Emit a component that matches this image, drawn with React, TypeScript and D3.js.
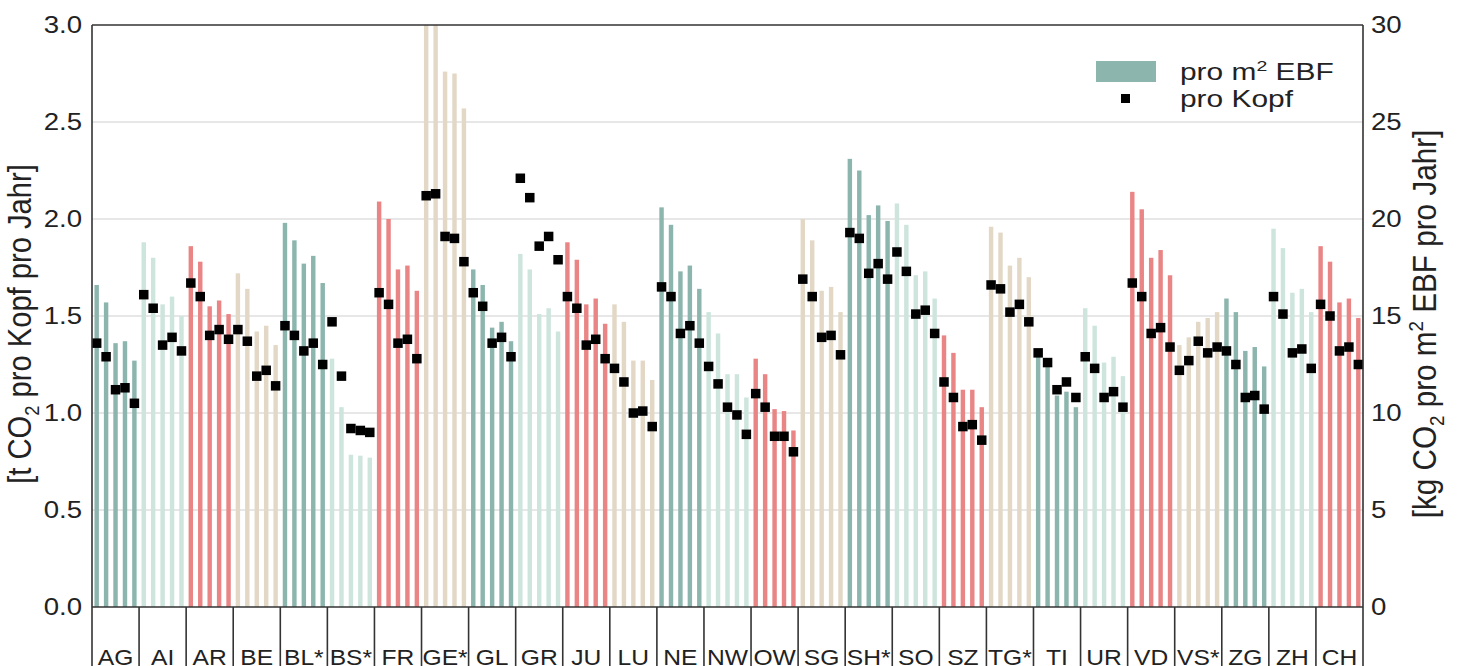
import React from "react";
import * as d3 from "d3";

// cantons, 5 years each
const cantons = ["AG", "AI", "AR", "BE", "BL*", "BS*", "FR", "GE*", "GL", "GR", "JU", "LU", "NE", "NW", "OW", "SG", "SH*", "SO", "SZ", "TG*", "TI", "UR", "VD", "VS*", "ZG", "ZH", "CH"];
const years = [0, 1, 2, 3, 4];
const palette = ["#8cb5ad", "#cde5dd", "#ea8586", "#e3d8c6"];

// kg CO2 pro m2 EBF (right axis)
const perM2 = [
  [16.6, 15.7, 13.6, 13.7, 12.7],
  [18.8, 18.0, 15.6, 16.0, 15.0],
  [18.6, 17.8, 15.5, 15.8, 15.1],
  [17.2, 16.4, 14.2, 14.5, 13.5],
  [19.8, 18.9, 17.7, 18.1, 16.7],
  [12.8, 10.3, 7.85, 7.8, 7.7],
  [20.9, 20.0, 17.4, 17.6, 16.3],
  [31.0, 31.0, 27.6, 27.5, 25.7],
  [17.4, 16.6, 14.4, 14.7, 13.7],
  [18.2, 17.4, 15.1, 15.4, 14.2],
  [18.8, 17.9, 15.6, 15.9, 14.6],
  [15.6, 14.7, 12.7, 12.7, 11.7],
  [20.6, 19.7, 17.3, 17.6, 16.4],
  [15.2, 14.1, 12.0, 12.0, 10.8],
  [12.8, 12.0, 10.2, 10.1, 9.1],
  [20.0, 18.9, 16.3, 16.5, 15.2],
  [23.1, 22.5, 20.2, 20.7, 19.9],
  [20.8, 19.7, 17.1, 17.3, 15.9],
  [14.0, 13.1, 11.2, 11.2, 10.3],
  [19.6, 19.3, 17.6, 18.0, 17.0],
  [13.0, 12.5, 10.9, 11.1, 10.3],
  [15.4, 14.5, 12.6, 12.9, 11.9],
  [21.4, 20.5, 18.0, 18.4, 17.1],
  [13.5, 13.9, 14.7, 14.9, 15.2],
  [15.9, 15.2, 13.2, 13.4, 12.4],
  [19.5, 18.5, 16.2, 16.4, 15.2],
  [18.6, 17.8, 15.7, 15.9, 14.9],
];

// t CO2 pro Kopf (left axis)
const perKopf = [
  [1.36, 1.29, 1.12, 1.13, 1.05],
  [1.61, 1.54, 1.35, 1.39, 1.32],
  [1.67, 1.60, 1.40, 1.43, 1.38],
  [1.43, 1.37, 1.19, 1.22, 1.14],
  [1.45, 1.40, 1.32, 1.36, 1.25],
  [1.47, 1.19, 0.92, 0.91, 0.90],
  [1.62, 1.56, 1.36, 1.38, 1.28],
  [2.12, 2.13, 1.91, 1.90, 1.78],
  [1.62, 1.55, 1.36, 1.39, 1.29],
  [2.21, 2.11, 1.86, 1.91, 1.79],
  [1.60, 1.54, 1.35, 1.38, 1.28],
  [1.23, 1.16, 1.00, 1.01, 0.93],
  [1.65, 1.60, 1.41, 1.45, 1.36],
  [1.24, 1.15, 1.03, 0.99, 0.89],
  [1.10, 1.03, 0.88, 0.88, 0.80],
  [1.69, 1.60, 1.39, 1.40, 1.30],
  [1.93, 1.90, 1.72, 1.77, 1.69],
  [1.83, 1.73, 1.51, 1.53, 1.41],
  [1.16, 1.08, 0.93, 0.94, 0.86],
  [1.66, 1.64, 1.52, 1.56, 1.47],
  [1.31, 1.26, 1.12, 1.16, 1.08],
  [1.29, 1.23, 1.08, 1.11, 1.03],
  [1.67, 1.60, 1.41, 1.44, 1.34],
  [1.22, 1.27, 1.37, 1.31, 1.34],
  [1.32, 1.25, 1.08, 1.09, 1.02],
  [1.60, 1.51, 1.31, 1.33, 1.23],
  [1.56, 1.50, 1.32, 1.34, 1.25],
];

const leftTicks = [0, 0.5, 1.0, 1.5, 2.0, 2.5, 3.0];
const rightTicks = [0, 5, 10, 15, 20, 25, 30];

const W = 1458;
const H = 666;
const left = 92;
const right = 1363;
const top = 25;
const bottom = 607;
const font = "'Liberation Sans', Arial, sans-serif";
const frame = "#333";
const ink = "#222";

// the source picture's lettering is wider than Liberation Sans, so stretch it
const wide = (x: number, y: number, sx: number, rot = 0, sy = 1) =>
  `translate(${x},${y}) rotate(${rot}) scale(${sx},${sy})`;

export default function App() {
  const x = d3.scaleBand().domain(cantons).range([left, right]).padding(0);
  const xi = d3.scaleBand<number>().domain(years).range([0, x.bandwidth()]).paddingInner(0.53).paddingOuter(0.26);
  const yL = d3.scaleLinear().domain([0, 3]).range([bottom, top]);
  const yR = d3.scaleLinear().domain([0, 30]).range([bottom, top]);
  const sq = 9.5;
  const midY = (top + bottom) / 2 + 8;

  return (
    <svg width={W} height={H} style={{ position: "absolute", left: 0, top: 0, background: "#fff" }} fontFamily={font}>
      <defs>
        <clipPath id="plot">
          <rect x={left} y={top} width={right - left} height={bottom - top} />
        </clipPath>
      </defs>

      {/* grid */}
      {leftTicks.slice(1, -1).map((t) => (
        <line key={t} x1={left} x2={right} y1={yL(t)} y2={yL(t)} stroke="#cfcfcf" strokeWidth={1.2} />
      ))}

      {/* bars */}
      <g clipPath="url(#plot)">
        {cantons.map((c, i) =>
          perM2[i].map((v, j) => (
            <rect
              key={c + j}
              x={x(c)! + xi(j)!}
              y={yR(v)}
              width={xi.bandwidth()}
              height={bottom - yR(v)}
              fill={palette[i % 4]}
            />
          ))
        )}
      </g>

      {/* squares */}
      {cantons.map((c, i) =>
        perKopf[i].map((v, j) => (
          <rect
            key={"k" + c + j}
            x={x(c)! + xi(j)! + xi.bandwidth() / 2 - sq / 2}
            y={yL(v) - sq / 2}
            width={sq}
            height={sq}
            fill="#000"
          />
        ))
      )}

      {/* frame */}
      <line x1={left} x2={right} y1={top} y2={top} stroke={frame} strokeWidth={1.6} />
      <line x1={left} x2={left} y1={top} y2={H} stroke={frame} strokeWidth={1.6} />
      <line x1={right} x2={right} y1={top} y2={H} stroke={frame} strokeWidth={1.6} />
      <line x1={left} x2={right} y1={bottom} y2={bottom} stroke={frame} strokeWidth={1.6} />

      {/* category boxes */}
      {cantons.slice(1).map((c) => (
        <line key={"s" + c} x1={x(c)} x2={x(c)} y1={bottom} y2={H} stroke={frame} strokeWidth={1.6} />
      ))}
      {cantons.map((c) => (
        <text key={"l" + c} transform={wide(x(c)! + x.bandwidth() / 2, 665, 1.12)} textAnchor="middle" fontSize={22} fill={ink}>
          {c}
        </text>
      ))}

      {/* left axis */}
      {leftTicks.map((t) => (
        <text key={"lt" + t} transform={wide(82, yL(t), 1.2)} dy="0.36em" textAnchor="end" fontSize={23} fill={ink}>
          {d3.format(".1f")(t)}
        </text>
      ))}
      <text transform={wide(31, midY, 1.08, -90, 1.2)} textAnchor="middle" fontSize={27} fill={ink}>
        [t CO<tspan fontSize={17} dy={7}>2</tspan>
        <tspan dy={-7}> pro Kopf pro Jahr]</tspan>
      </text>

      {/* right axis */}
      {rightTicks.map((t) => (
        <text key={"rt" + t} transform={wide(1371, yR(t), 1.2)} dy="0.36em" textAnchor="start" fontSize={23} fill={ink}>
          {t}
        </text>
      ))}
      <text transform={wide(1436, midY, 1.1, -90, 1.2)} textAnchor="middle" fontSize={27} fill={ink}>
        [kg CO<tspan fontSize={17} dy={7}>2</tspan>
        <tspan dy={-7}> pro m</tspan>
        <tspan fontSize={17} dy={-11}>2</tspan>
        <tspan dy={11}> EBF pro Jahr]</tspan>
      </text>

      {/* legend */}
      <rect x={1096} y={61} width={60} height={21} fill={palette[0]} />
      <rect x={1121} y={94} width={9} height={9} fill="#000" />
      <text transform={wide(1180, 80, 1.3)} fontSize={23} fill={ink}>
        pro m<tspan fontSize={15} dy={-9}>2</tspan>
        <tspan dy={9}> EBF</tspan>
      </text>
      <text transform={wide(1180, 107, 1.3)} fontSize={23} fill={ink}>
        pro Kopf
      </text>
    </svg>
  );
}
